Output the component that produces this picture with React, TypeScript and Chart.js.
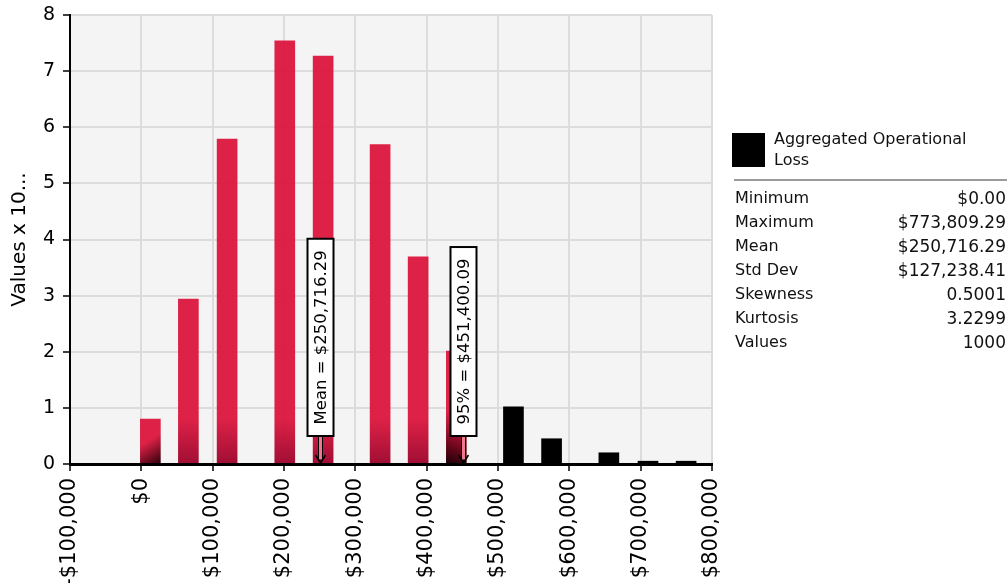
import React, { useEffect, useRef } from "react";
import { Chart, registerables } from "chart.js";

Chart.register(...registerables);

// ---- data ----
const binCenters = [12660, 65960, 120250, 201100, 254850, 334740, 388040, 441630, 521660, 575110, 655410, 710270, 763710];
const binValues = [0.8, 2.94, 5.79, 7.54, 7.27, 5.69, 3.69, 2.01, 1.02, 0.45, 0.2, 0.05, 0.05];
const xTickValues = [-100000, 0, 100000, 200000, 300000, 400000, 500000, 600000, 700000, 800000];
const yTickValues = [0, 1, 2, 3, 4, 5, 6, 7, 8];
const markerLabels = ["Mean = $250,716.29", "95% = $451,400.09"];
const markerValues = [250716.29, 451400.09];
const seriesName = ["Aggregated Operational", "Loss"];
const statNames = ["Minimum", "Maximum", "Mean", "Std Dev", "Skewness", "Kurtosis", "Values"];
const statValues = ["$0.00", "$773,809.29", "$250,716.29", "$127,238.41", "0.5001", "3.2299", "1000"];
const yAxisTitle = "Values x 10...";

// ---- styles ----
const FONT = '"DejaVu Sans", Verdana, sans-serif';
const RED = "rgba(220,20,60,0.94)";
const barShade = ["br", "v", "v", "v", "v", "v", "v", "bl", "", "", "", "", ""];

const fmtMoney = (v: number) => {
  const s = Math.abs(v).toLocaleString("en-US");
  return (v < 0 ? "-$" : "$") + s;
};

export default function App() {
  const ref = useRef<HTMLCanvasElement | null>(null);

  useEffect(() => {
    const canvas = ref.current;
    if (!canvas) return;
    const p95 = markerValues[1];

    const bgPlugin = {
      id: "plotBg",
      beforeDraw(chart: any) {
        const { ctx, chartArea: a } = chart;
        ctx.save();
        ctx.fillStyle = "#f4f4f4";
        ctx.fillRect(a.left, a.top, a.right - a.left, a.bottom - a.top);
        ctx.restore();
      },
    };

    const markerPlugin = {
      id: "markers",
      afterDraw(chart: any) {
        const { ctx, chartArea: a, scales } = chart;
        ctx.save();
        ctx.font = `16.5px ${FONT}`;
        markerValues.forEach((v, i) => {
          const px = Math.round(scales.x.getPixelForValue(v)) + 0.5;
          const label = markerLabels[i];
          const tw = ctx.measureText(label).width;
          const boxW = 26;
          const boxBottom = a.bottom - 28;
          const boxH = tw + 23;
          const boxTop = boxBottom - boxH;
          // arrow shaft
          ctx.fillStyle = "#f07890";
          ctx.strokeStyle = "#000";
          ctx.lineWidth = 1;
          ctx.fillRect(px - 2, boxBottom, 4, a.bottom - boxBottom - 4);
          ctx.strokeRect(px - 2, boxBottom, 4, a.bottom - boxBottom - 4);
          // head
          ctx.lineWidth = 1.5;
          ctx.beginPath();
          ctx.moveTo(px - 5, a.bottom - 9);
          ctx.lineTo(px, a.bottom - 1);
          ctx.lineTo(px + 5, a.bottom - 9);
          ctx.stroke();
          // box
          ctx.fillStyle = "#fff";
          ctx.fillRect(px - boxW / 2, boxTop, boxW, boxH);
          ctx.lineWidth = 2;
          ctx.strokeStyle = "#000";
          ctx.strokeRect(px - boxW / 2, boxTop, boxW, boxH);
          // text
          ctx.save();
          ctx.translate(px, boxTop + boxH / 2);
          ctx.rotate(-Math.PI / 2);
          ctx.fillStyle = "#000";
          ctx.textAlign = "center";
          ctx.textBaseline = "middle";
          ctx.fillText(label, 0, 1);
          ctx.restore();
        });
        ctx.restore();
      },
    };

    const chart = new Chart(canvas, {
      type: "bar",
      data: {
        datasets: [
          {
            label: seriesName.join(" "),
            data: binCenters.map((x, i) => ({ x, y: binValues[i] })),
            barThickness: 20,
            borderWidth: 0,
            backgroundColor: (c: any) => {
              const i = c.dataIndex;
              if (i === undefined) return RED;
              const x = binCenters[i];
              if (x > p95) return "#000";
              const chartRef = c.chart;
              const a = chartRef.chartArea;
              if (!a) return RED;
              const ctx = chartRef.ctx;
              const px = chartRef.scales.x.getPixelForValue(x);
              const b = a.bottom;
              const shade = barShade[i];
              let g;
              if (shade === "br") {
                g = ctx.createLinearGradient(px - 4, b - 22, px + 10, b);
                g.addColorStop(0, RED);
                g.addColorStop(1, "#2a0008");
              } else if (shade === "bl") {
                g = ctx.createLinearGradient(px + 10, b - 45, px - 10, b);
                g.addColorStop(0, RED);
                g.addColorStop(0.55, "#7a0820");
                g.addColorStop(1, "#1a0005");
              } else {
                g = ctx.createLinearGradient(0, b - 45, 0, b);
                g.addColorStop(0, RED);
                g.addColorStop(1, "#a00e34");
              }
              return g;
            },
          },
        ],
      },
      options: {
        responsive: false,
        animation: false,
        events: [],
        layout: { padding: { top: 15, right: 295, left: 0, bottom: 0 } },
        plugins: { legend: { display: false }, tooltip: { enabled: false } },
        scales: {
          x: {
            type: "linear",
            min: -100000,
            max: 800000,
            offset: false,
            afterBuildTicks: (s: any) => {
              s.ticks = xTickValues.map((v) => ({ value: v }));
            },
            afterFit: (s: any) => {
              s.height = 119;
            },
            grid: { color: "#dcdcdc", lineWidth: 2, tickColor: "#000", tickWidth: 1.5, tickLength: 7, offset: false },
            border: { color: "#000", width: 3, z: 1 },
            ticks: {
              minRotation: 90,
              maxRotation: 90,
              padding: 7,
              color: "#000",
              font: { family: FONT, size: 21 },
              callback: (v: any) => fmtMoney(Number(v)),
            },
          },
          y: {
            min: 0,
            max: 8,
            afterBuildTicks: (s: any) => {
              s.ticks = yTickValues.map((v) => ({ value: v }));
            },
            afterFit: (s: any) => {
              s.width = 70;
              s.paddingTop = 0;
              s.paddingBottom = 0;
            },
            grid: { color: "#dcdcdc", lineWidth: 2, tickColor: "#000", tickWidth: 1.5, tickLength: 7 },
            border: { color: "#000", width: 2, z: 1 },
            title: {
              display: true,
              text: yAxisTitle,
              color: "#000",
              font: { family: FONT, size: 20 },
              padding: { top: 8, bottom: 0 },
            },
            ticks: {
              padding: 8,
              color: "#000",
              font: { family: FONT, size: 19 },
            },
          },
        },
      },
      plugins: [bgPlugin, markerPlugin],
    } as any);

    return () => chart.destroy();
  }, []);

  const txt: React.CSSProperties = { fontFamily: FONT, fontSize: 16, color: "#111" };

  return (
    <div style={{ position: "absolute", left: 0, top: 0, width: 1007, height: 583, background: "#fff", overflow: "hidden" }}>
      <canvas ref={ref} width={1007} height={583} style={{ position: "absolute", left: 0, top: 0 }} />
      <div style={{ position: "absolute", left: 732, top: 133, width: 33, height: 34, background: "#000" }} />
      <div style={{ ...txt, position: "absolute", left: 774, top: 128, lineHeight: "21px", whiteSpace: "nowrap" }}>
        {seriesName[0]}
        <br />
        {seriesName[1]}
      </div>
      <div style={{ position: "absolute", left: 734, top: 179, width: 273, height: 2, background: "#9a9a9a" }} />
      {statNames.map((n, i) => (
        <div
          key={n}
          style={{
            ...txt,
            position: "absolute",
            left: 735,
            width: 271,
            top: 186 + i * 24,
            height: 24,
            lineHeight: "24px",
            display: "flex",
            justifyContent: "space-between",
          }}
        >
          <span>{n}</span>
          <span style={{ fontSize: 17 }}>{statValues[i]}</span>
        </div>
      ))}
    </div>
  );
}
